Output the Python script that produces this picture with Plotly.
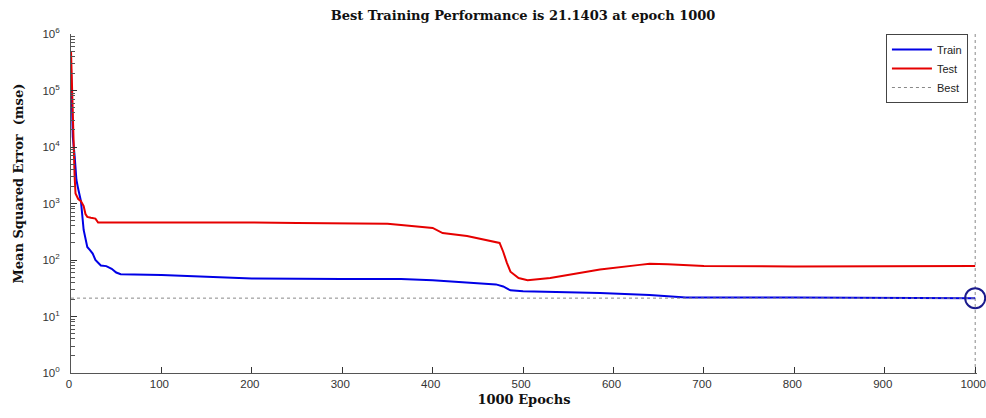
import plotly.graph_objects as go

# ---- data ----
train_epochs = [0, 1, 2, 4, 6, 8, 11, 14, 16, 18, 21, 24, 27, 29, 33, 39, 45, 50, 55,
                100, 150, 200, 300, 365, 400, 440, 470, 478, 486, 500, 550, 585, 640,
                680, 800, 950, 1000]
train_mse = [2.5e5, 3e4, 1.5e4, 7e3, 2.6e3, 1.8e3, 1.1e3, 340, 220, 170, 150, 130, 100,
             92, 80, 78, 70, 60, 56, 54, 50, 47, 46, 46, 44, 40, 37, 34, 29, 28, 27, 26,
             24, 21.8, 21.6, 21.4, 21.1403]

test_epochs = [0, 1, 2, 3, 4, 5, 8, 11, 14, 16, 18, 22, 27, 30, 50, 100, 150, 200, 250,
               300, 350, 365, 400, 411, 438, 474, 478, 482, 486, 495, 505, 530, 585, 629,
               640, 660, 700, 800, 950, 960, 1000]
test_mse = [5e5, 1.2e5, 9e4, 2e4, 3e3, 1.5e3, 1.2e3, 1.1e3, 900, 650, 580, 560, 540, 460,
            460, 470, 460, 460, 450, 450, 440, 415, 370, 300, 265, 200, 140, 90, 62, 48,
            44, 48, 68, 82, 86, 84, 78, 77, 76, 78, 78]

best_value = 21.1403
best_epoch = 1000
y_limits = [1, 1e6]

y_tickvals = [1, 10, 100, 1e3, 1e4, 1e5, 1e6]
y_ticktext = ["10<sup>0</sup>", "10<sup>1</sup>", "10<sup>2</sup>", "10<sup>3</sup>",
              "10<sup>4</sup>", "10<sup>5</sup>", "10<sup>6</sup>"]
x_tickvals = [0, 100, 200, 300, 400, 500, 600, 700, 800, 900, 1000]

fig = go.Figure()
fig.add_trace(go.Scatter(x=train_epochs, y=train_mse, mode="lines", name="Train",
                         line=dict(color="#0000e6", width=2)))
fig.add_trace(go.Scatter(x=test_epochs, y=test_mse, mode="lines", name="Test",
                         line=dict(color="#e60000", width=2)))
fig.add_trace(go.Scatter(x=[0, best_epoch, None, best_epoch, best_epoch],
                         y=[best_value, best_value, None, y_limits[0], y_limits[1]],
                         mode="lines", name="Best",
                         line=dict(color="#888888", width=1, dash="dot")))
fig.add_trace(go.Scatter(x=[best_epoch], y=[best_value], mode="markers", showlegend=False,
                         cliponaxis=False,
                         marker=dict(symbol="circle-open", size=20, color="#1a1a8c",
                                     line=dict(width=2, color="#1a1a8c"))))

axis_font = dict(family="Liberation Sans, Arial, sans-serif", size=11.5, color="#333333")
title_font = dict(family="DejaVu Serif, serif", size=13, color="#111111")

fig.update_layout(
    width=986, height=418,
    margin=dict(l=71, r=9, t=34, b=45, autoexpand=False),
    paper_bgcolor="white", plot_bgcolor="white",
    title=dict(text="<b>Best Training Performance is 21.1403 at epoch 1000</b>",
               x=(71 + 975) / 2 / 986, xanchor="center", y=0.962, yanchor="middle",
               font=title_font),
    legend=dict(x=0.99, xanchor="right", y=1.0, yanchor="top",
                bgcolor="white", bordercolor="#444444", borderwidth=1,
                font=dict(family="Liberation Sans, Arial, sans-serif", size=11, color="#222"),
                tracegroupgap=0, itemwidth=40),
    showlegend=True,
    annotations=[dict(text="<b>Mean Squared Error  (mse)</b>", textangle=-90,
                      xref="paper", yref="paper", x=-0.058, y=0.56,
                      xanchor="center", yanchor="middle", showarrow=False,
                      font=title_font)],
)
fig.update_xaxes(range=[0, 1002], tickvals=x_tickvals, ticks="inside", ticklen=6,
                 tickcolor="#333", showline=True, linecolor="#555", linewidth=1,
                 showgrid=False, zeroline=False, tickfont=axis_font,
                 ticklabeloverflow="allow", automargin=False, ticklabelshift=-2,
                 title=dict(text="<b>1000 Epochs</b>", font=title_font, standoff=6))
fig.update_yaxes(type="log", range=[0, 6], tickmode="array",
                 tickvals=y_tickvals, ticktext=y_ticktext,
                 ticks="inside", ticklen=6, tickcolor="#333",
                 minor=dict(ticks="inside", ticklen=4, tickcolor="#555", dtick="D1",
                            showgrid=False),
                 showline=True, linecolor="#555", linewidth=1, ticklabelstandoff=8,
                 showgrid=False, zeroline=False, tickfont=axis_font, automargin=False)

fig.write_html("out.html")
